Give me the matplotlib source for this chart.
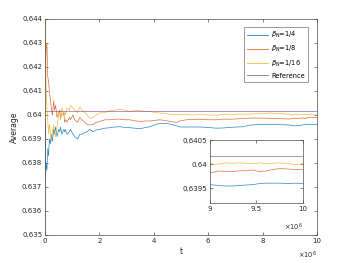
import numpy as np
import matplotlib
matplotlib.use("Agg")
import matplotlib.pyplot as plt
from matplotlib.ticker import FuncFormatter

# time samples, in units of 1e6
t_mil = [0, 0.005, 0.02, 0.04, 0.07, 0.10, 0.13, 0.16, 0.20, 0.23,
         0.27, 0.32, 0.35, 0.39, 0.44, 0.50, 0.54, 0.57, 0.62, 0.69,
         0.72, 0.75, 0.81, 0.90, 0.93, 1.03, 1.09, 1.20, 1.28, 1.36,
         1.46, 1.55, 1.64, 1.77, 1.89, 2.01, 2.20, 2.38, 2.55, 2.75,
         2.95, 3.12, 3.30, 3.49, 3.67, 3.86, 4.05, 4.22, 4.47, 4.60,
         4.83, 4.96, 5.20, 5.45, 5.70, 6.00, 6.31, 6.55, 6.80, 7.05,
         7.30, 7.54, 7.90, 8.27, 8.60, 9.00, 9.05, 9.10, 9.17, 9.24,
         9.31, 9.38, 9.46, 9.53, 9.60, 9.67, 9.75, 9.85, 9.92, 10.0]

avg_quarter = [0.6350, 0.6397, 0.6374, 0.6380, 0.6377, 0.6386, 0.6383, 0.6390, 0.6388, 0.6392,
               0.6389, 0.6394, 0.6392, 0.6395, 0.6391, 0.6394, 0.6393, 0.6395, 0.6392, 0.6394,
               0.6393, 0.6394, 0.6392, 0.6393, 0.6394, 0.6392, 0.6391, 0.6390, 0.6392, 0.6392,
               0.63927, 0.6393, 0.6394, 0.6393, 0.63938, 0.6394, 0.63945, 0.63947, 0.6395, 0.63951,
               0.63948, 0.63947, 0.63945, 0.63943, 0.63947, 0.63951, 0.6396, 0.63965, 0.63965, 0.63962,
               0.63955, 0.6395, 0.6395, 0.6395, 0.6395, 0.63948, 0.63945, 0.63946, 0.63948, 0.6395,
               0.63951, 0.63958, 0.6396, 0.6396, 0.6396, 0.63958, 0.63957, 0.63956, 0.63955, 0.63955,
               0.63956, 0.63957, 0.63958, 0.6396, 0.63961, 0.63961, 0.63961, 0.6396, 0.63961, 0.6396]

avg_eighth = [0.6440, 0.6440, 0.6418, 0.6428, 0.6430, 0.6416, 0.6414, 0.6410, 0.6406, 0.6403,
              0.6400, 0.6406, 0.6402, 0.6404, 0.6399, 0.6401, 0.6402, 0.6399, 0.6400, 0.6401,
              0.6397, 0.6398, 0.6397, 0.6399, 0.6398, 0.6400, 0.6398, 0.6397, 0.6399, 0.6398,
              0.6397, 0.6396, 0.63959, 0.6396, 0.6397, 0.63973, 0.6398, 0.6398, 0.63982, 0.63983,
              0.6398, 0.6398, 0.63976, 0.63973, 0.63975, 0.63975, 0.63978, 0.6398, 0.63976, 0.63973,
              0.63969, 0.63975, 0.6398, 0.63982, 0.63982, 0.6398, 0.6398, 0.63983, 0.63982, 0.63984,
              0.63985, 0.63987, 0.63987, 0.63986, 0.63985, 0.63983, 0.63984, 0.63986, 0.63985, 0.63985,
              0.63986, 0.63987, 0.63988, 0.63985, 0.63986, 0.63989, 0.63991, 0.6399, 0.63989, 0.63989]

avg_sixteenth = [0.6350, 0.6440, 0.6425, 0.6412, 0.6403, 0.6398, 0.6392, 0.6396, 0.6393, 0.6389,
                 0.6393, 0.6396, 0.6393, 0.6391, 0.6395, 0.6400, 0.6401, 0.6398, 0.6403, 0.6400,
                 0.6401, 0.6400, 0.6403, 0.6402, 0.6404, 0.6403, 0.6402, 0.6401, 0.64035, 0.6402,
                 0.6401, 0.6400, 0.63986, 0.6399, 0.6400, 0.64008, 0.6401, 0.64018, 0.6402, 0.64025,
                 0.6402, 0.64015, 0.64018, 0.64018, 0.64015, 0.64015, 0.6401, 0.64008, 0.64005, 0.64003,
                 0.64002, 0.64001, 0.64002, 0.6400, 0.64001, 0.6400, 0.63999, 0.64003, 0.64003, 0.64003,
                 0.64004, 0.64004, 0.64006, 0.64008, 0.64006, 0.64003, 0.63999, 0.64001, 0.64003, 0.64002,
                 0.64003, 0.64002, 0.64001, 0.64003, 0.64001, 0.64002, 0.64003, 0.64001, 0.63999, 0.64001]

reference_value = 0.64018

labels = [r"$\beta_{\mathrm{N}}$=1/4", r"$\beta_{\mathrm{N}}$=1/8",
          r"$\beta_{\mathrm{N}}$=1/16", "Reference"]
colors = ["#0072BD", "#D95319", "#EDB120", "#7E2F8E"]

main_yticks = [0.635, 0.636, 0.637, 0.638, 0.639, 0.640, 0.641, 0.642, 0.643, 0.644]
main_xticks = [0, 2, 4, 6, 8, 10]
inset_yticks = [0.6395, 0.6400, 0.6405]
inset_xticks = [9, 9.5, 10]

t = np.array(t_mil) * 1e6
series = [avg_quarter, avg_eighth, avg_sixteenth]

plt.rcParams["font.family"] = ["DejaVu Sans"]
txt = "#262626"
fs = 5


def style_axes(ax):
    for s in ax.spines.values():
        s.set_color("0.3")
        s.set_linewidth(0.5)
    ax.tick_params(direction="in", length=2.5, width=0.5, colors="0.3",
                   labelcolor=txt, labelsize=fs, top=True, right=True, pad=2)


def draw(ax):
    for vals, lab, c in zip(series, labels, colors):
        ax.plot(t, vals, color=c, lw=0.5, alpha=0.85, label=lab)
    ax.plot([t[0], t[-1]], [reference_value, reference_value], color=colors[3],
            lw=0.5, alpha=0.75, label=labels[3])


fig = plt.figure(figsize=(3.5, 2.63), dpi=100)
ax = fig.add_axes([0.1286, 0.1065, 0.777, 0.8213])
draw(ax)
style_axes(ax)
ax.set_xlim(0, 1e7)
ax.set_ylim(0.635, 0.644)
ax.set_xticks([v * 1e6 for v in main_xticks])
ax.set_yticks(main_yticks)
ax.xaxis.set_major_formatter(FuncFormatter(lambda x, p: f"{x / 1e6:g}"))
ax.yaxis.set_major_formatter(FuncFormatter(lambda y, p: f"{y:g}"))
ax.set_xlabel("t", fontsize=5.5, color=txt, labelpad=2)
ax.set_ylabel("Average", fontsize=5.5, color=txt, labelpad=2)
ax.text(1.0, -0.07, r"$\times10^{6}$", transform=ax.transAxes, fontsize=4.8,
        color=txt, ha="right", va="top")

leg = ax.legend(loc="upper right", bbox_to_anchor=(0.967, 0.963), borderaxespad=0,
                fontsize=4.8, handlelength=3.2, frameon=True, fancybox=False,
                labelspacing=0.6, borderpad=0.45, handletextpad=0.5)
leg.get_frame().set_edgecolor("0.3")
leg.get_frame().set_linewidth(0.5)
for line in leg.get_lines():
    line.set_linewidth(0.6)

# zoomed inset on the last part
ins = fig.add_axes([0.60, 0.2281, 0.2657, 0.2395])
draw(ins)
style_axes(ins)
ins.set_xlim(9e6, 1e7)
ins.set_ylim(0.6392, 0.6405)
ins.set_xticks([v * 1e6 for v in inset_xticks])
ins.set_yticks(inset_yticks)
ins.xaxis.set_major_formatter(FuncFormatter(lambda x, p: f"{x / 1e6:g}"))
ins.yaxis.set_major_formatter(FuncFormatter(lambda y, p: f"{y:g}"))
ins.text(1.0, -0.3, r"$\times10^{6}$", transform=ins.transAxes, fontsize=4.8,
         color=txt, ha="right", va="top")

fig.savefig("out.png", dpi=100)
